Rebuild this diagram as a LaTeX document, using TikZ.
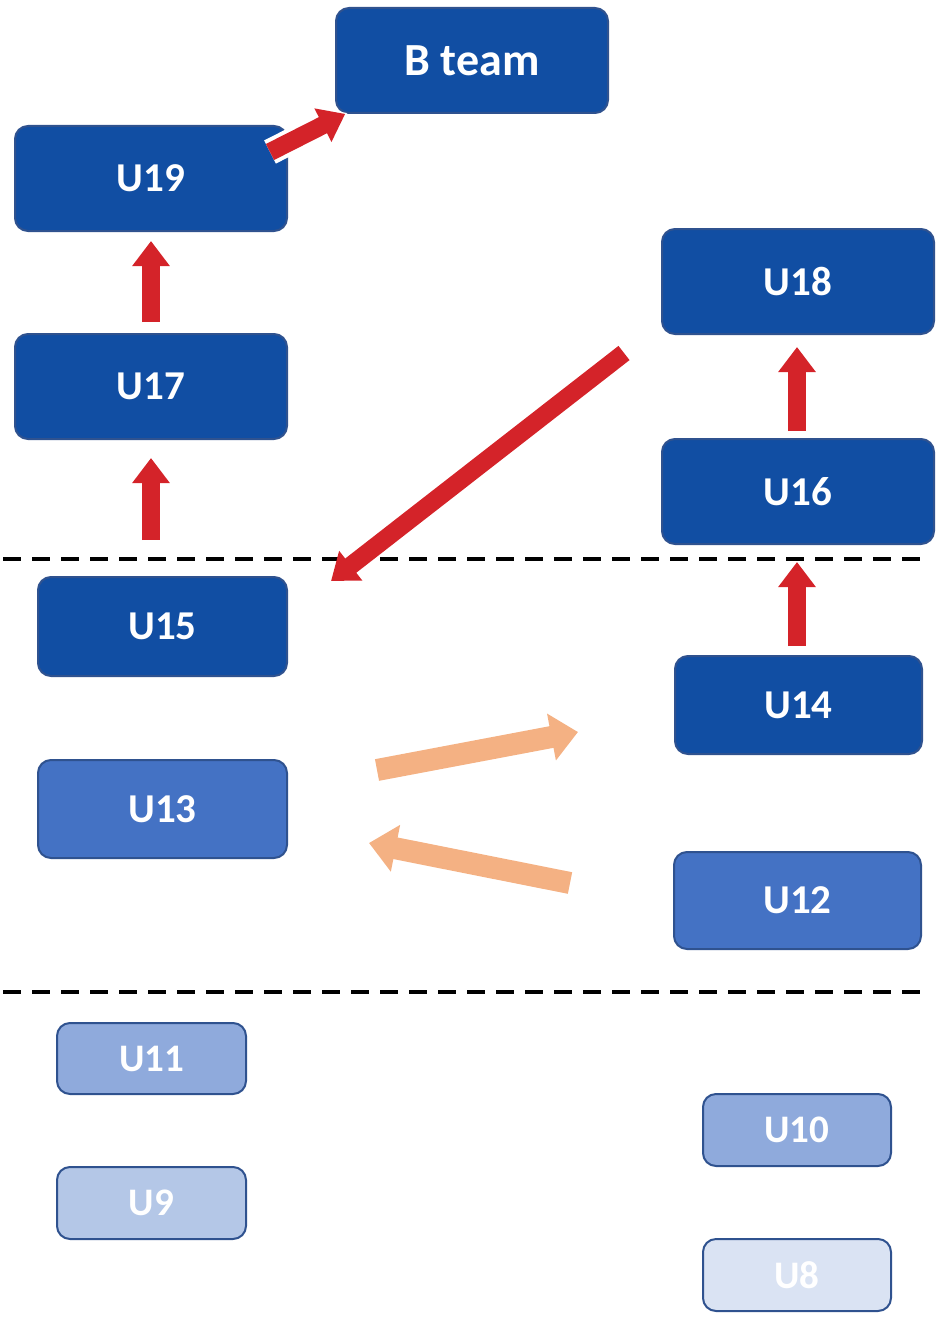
\documentclass[tikz,border=0pt]{standalone}
\usepackage{fontspec}
\setmainfont{Carlito}
\usetikzlibrary{arrows.meta}
\definecolor{dkblue}{RGB}{17,78,163}
\definecolor{midblue}{RGB}{68,114,196}
\definecolor{ltblue}{RGB}{143,170,220}
\definecolor{ltrblue}{RGB}{180,199,231}
\definecolor{palblue}{RGB}{218,227,243}
\definecolor{bordblue}{RGB}{47,82,143}
\definecolor{arrred}{RGB}{212,35,41}
\definecolor{arrorange}{RGB}{244,177,131}
\tikzset{
  box/.style={draw=bordblue, line width=2pt, rounded corners=13pt, text=white,
    font=\bfseries\fontsize{41}{41}\selectfont, inner sep=0pt, align=center},
  smallbox/.style={box, font=\bfseries\fontsize{39}{39}\selectfont},
  redarr/.style={draw=arrred, line width=18pt, line cap=butt,
    -{Triangle[length=25pt,width=36pt]}},
  orarr/.style={draw=arrorange, line width=22pt, line cap=butt,
    -{Triangle[length=27pt,width=46pt]}},
  divider/.style={draw=black, line width=3.5pt, dash pattern=on 18pt off 11pt}
}
\begin{document}
\begin{tikzpicture}[x=1pt,y=-1pt]
\useasboundingbox (0,0) rectangle (935,1319);
% boxes
\node[box, fill=dkblue, minimum width=272pt, minimum height=105pt, font=\bfseries\fontsize{46}{46}\selectfont] (bteam) at (472,60.5) {B team};
\node[box, fill=dkblue, minimum width=272pt, minimum height=105pt] (u19) at (151,178.5) {U19};
\node[box, fill=dkblue, minimum width=272pt, minimum height=105pt] (u17) at (151,386.5) {U17};
\node[box, fill=dkblue, minimum width=272pt, minimum height=105pt] (u18) at (798,281.5) {U18};
\node[box, fill=dkblue, minimum width=272pt, minimum height=105pt] (u16) at (798,491.5) {U16};
\node[box, fill=dkblue, minimum width=249pt, minimum height=99pt] (u15) at (162.5,626.5) {U15};
\node[box, fill=dkblue, minimum width=247pt, minimum height=98pt] (u14) at (798.5,705) {U14};
\node[box, fill=midblue, minimum width=249pt, minimum height=98pt] (u13) at (162.5,809) {U13};
\node[box, fill=midblue, minimum width=247pt, minimum height=97pt] (u12) at (797.5,900.5) {U12};
\node[smallbox, fill=ltblue, minimum width=189pt, minimum height=71pt] (u11) at (151.5,1058.5) {U11};
\node[smallbox, fill=ltrblue, minimum width=189pt, minimum height=72pt] (u9) at (151.5,1203) {U9};
\node[smallbox, fill=ltblue, minimum width=188pt, minimum height=72pt] (u10) at (797,1130) {U10};
\node[smallbox, fill=palblue, minimum width=188pt, minimum height=72pt] (u8) at (797,1275) {U8};
% dividers
\coordinate (d1a) at (3,559);
\coordinate (d1b) at (922,559);
\coordinate (d2a) at (3,992);
\coordinate (d2b) at (922,992);
\draw[divider] (d1a) -- (d1b);
\draw[divider] (d2a) -- (d2b);
% arrow end points
\coordinate (a1s) at (270,152);
\coordinate (a1e) at (347,113);
\coordinate (a2s) at ([yshift=11pt]u17.north);
\coordinate (a2e) at ([yshift=-9pt]u19.south);
\coordinate (a3s) at (151,540);
\coordinate (a3e) at ([yshift=-18pt]u17.south);
\coordinate (a4s) at (797,431);
\coordinate (a4e) at (797,347);
\coordinate (a5s) at (797,646);
\coordinate (a5e) at (797,562);
\coordinate (a6s) at (624,353);
\coordinate (a6e) at (331,581);
\coordinate (a7s) at (377,770);
\coordinate (a7e) at (578,732);
\coordinate (a8s) at (570,883);
\coordinate (a8e) at (369,843);
% arrows
\draw[redarr, draw=white, line width=26pt, -{Triangle[length=30pt,width=46pt]}] (a1s) -- (a1e);
\draw[redarr, shorten >=2pt] (a1s) -- (a1e);
\draw[redarr] (a2s) -- (a2e);
\draw[redarr] (a3s) -- (a3e);
\draw[redarr] (a4s) -- (a4e);
\draw[redarr] (a5s) -- (a5e);
\draw[redarr] (a6s) -- (a6e);
\draw[orarr] (a7s) -- (a7e);
\draw[orarr] (a8s) -- (a8e);
\end{tikzpicture}
\end{document}
